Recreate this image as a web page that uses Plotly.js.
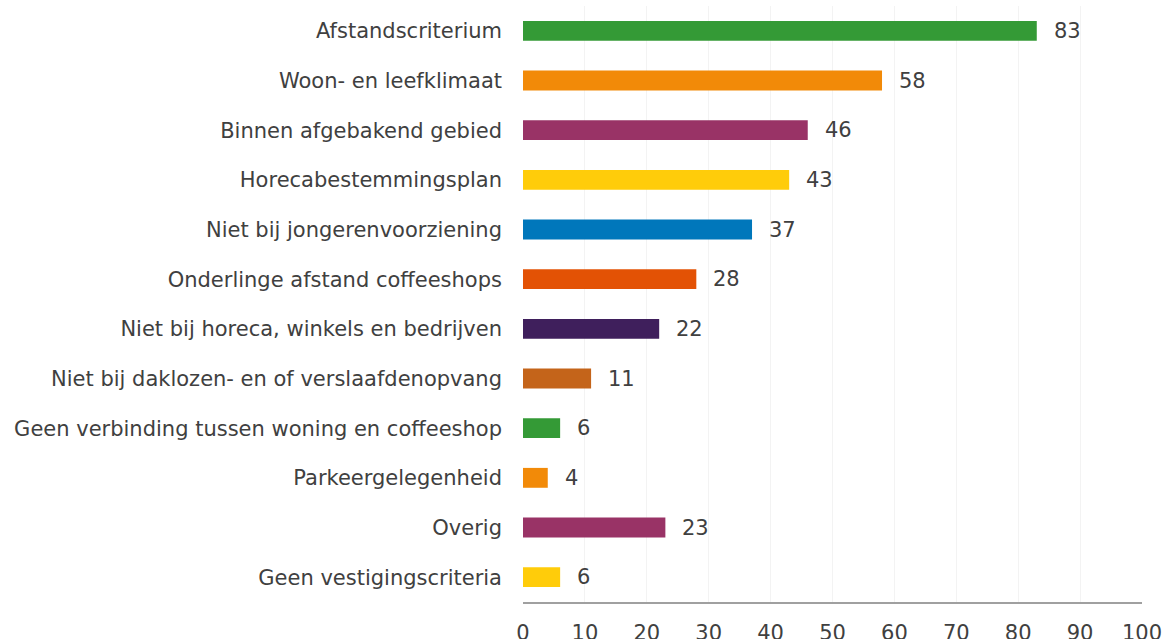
<!DOCTYPE html>
<html>
<head>
<meta charset="utf-8">
<script src="https://cdn.plot.ly/plotly-3.0.1.min.js"></script>
<style>html,body{margin:0;padding:0;background:#fff;}#chart{width:1172px;height:639px;}</style>
</head>
<body>
<div id="chart"></div>
<script>
const categories = [
  "Afstandscriterium",
  "Woon- en leefklimaat",
  "Binnen afgebakend gebied",
  "Horecabestemmingsplan",
  "Niet bij jongerenvoorziening",
  "Onderlinge afstand coffeeshops",
  "Niet bij horeca, winkels en bedrijven",
  "Niet bij daklozen- en of verslaafdenopvang",
  "Geen verbinding tussen woning en coffeeshop",
  "Parkeergelegenheid",
  "Overig",
  "Geen vestigingscriteria"
];
const values = [83, 58, 46, 43, 37, 28, 22, 11, 6, 4, 23, 6];
const barColors = ["#349a36", "#f28a08", "#993366", "#ffcc0a", "#0077bb", "#e35205", "#3f1f5c", "#c4641a", "#349a36", "#f28a08", "#993366", "#ffcc0a"];
const xTicks = [0, 10, 20, 30, 40, 50, 60, 70, 80, 90, 100];

const fontFamily = "DejaVu Sans, Verdana, sans-serif";
const textColor = "#404040";

const trace = {
  type: "bar",
  orientation: "h",
  x: values,
  y: categories,
  marker: {color: barColors},
  width: 0.4,
  hoverinfo: "none"
};

const annotations = values.map((v, i) => ({
  x: v, y: categories[i], xref: "x", yref: "y",
  text: String(v), showarrow: false, xanchor: "left", yanchor: "middle",
  xshift: 15, font: {family: fontFamily, size: 21, color: textColor}
}));

const layout = {
  width: 1172, height: 639,
  margin: {l: 523, r: 30, t: 6, b: 37},
  paper_bgcolor: "#fff", plot_bgcolor: "#fff",
  showlegend: false,
  font: {family: fontFamily, size: 21, color: textColor},
  xaxis: {
    range: [0, 100], tickvals: xTicks, ticktext: xTicks.map(String),
    showgrid: true, gridcolor: "#f3f3f3", gridwidth: 1,
    zeroline: false, showline: true, linecolor: "#a0a0a0", linewidth: 1.5,
    ticks: "", ticklabelstandoff: 11,
    tickfont: {family: fontFamily, size: 21, color: textColor},
    fixedrange: true
  },
  yaxis: {
    categoryorder: "array", categoryarray: categories,
    autorange: "reversed", range: [11.5, -0.5],
    showgrid: false, zeroline: false, showline: false,
    ticks: "", ticklabelstandoff: 20,
    tickfont: {family: fontFamily, size: 21, color: textColor},
    fixedrange: true
  },
  annotations: annotations
};

Plotly.newPlot("chart", [trace], layout, {displayModeBar: false, staticPlot: true});
</script>
</body>
</html>
